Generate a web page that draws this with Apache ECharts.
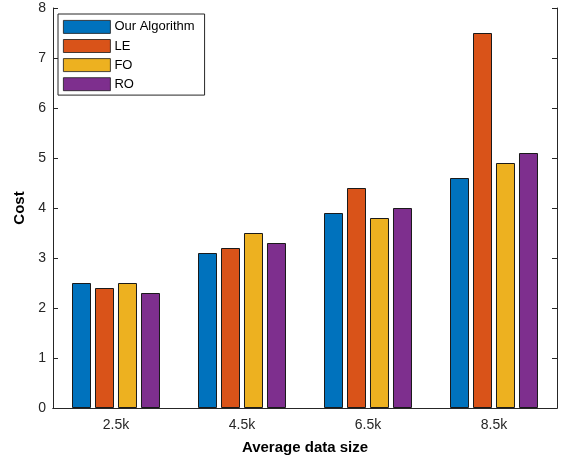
<!DOCTYPE html>
<html>
<head>
<meta charset="utf-8">
<script src="https://cdn.jsdelivr.net/npm/echarts@6/dist/echarts.min.js"></script>
<style>
  html, body { margin: 0; padding: 0; background: #fff; }
  #chart { width: 567px; height: 461px; }
</style>
</head>
<body>
<div id="chart"></div>
<script>
// categories and series values
const sizes = ['2.5k', '4.5k', '6.5k', '8.5k'];
const ourAlgorithm = [2.5, 3.1, 3.9, 4.6];
const le = [2.4, 3.2, 4.4, 7.5];
const fo = [2.5, 3.5, 3.8, 4.9];
const ro = [2.3, 3.3, 4.0, 5.1];

const seriesNames = ['Our Algorithm', 'LE', 'FO', 'RO'];
const seriesData = [ourAlgorithm, le, fo, ro];
const colors = ['#0072BD', '#D95319', '#EDB120', '#7E2F8E'];

const font = 'Liberation Sans, Arial, sans-serif';
const axisColor = '#262626';

let chart = echarts.init(document.getElementById('chart'));

let option = {
    animation: false,
    grid: { left: 53, right: 10, top: 8, bottom: 53 },
    legend: {
        orient: 'vertical',
        left: 58,
        top: 14,
        padding: [6, 10, 4, 5],
        itemWidth: 47,
        itemHeight: 13,
        itemGap: 5.3,
        icon: 'rect',
        backgroundColor: '#fff',
        borderColor: axisColor,
        borderWidth: 1,
        borderRadius: 0,
        itemStyle: { borderWidth: 0.8, borderColor: '#1a1a1a' },
        textStyle: { fontFamily: font, fontSize: 13, color: '#000', lineHeight: 13, padding: [0, 0, 0, -1] },
        data: seriesNames
    },
    xAxis: [
        {
            type: 'category',
            data: sizes,
            name: 'Average data size',
            nameLocation: 'middle',
            nameGap: 32,
            nameTextStyle: { fontFamily: font, fontSize: 15, fontWeight: 'bold', color: '#000' },
            axisLine: { lineStyle: { color: axisColor, width: 1 } },
            axisTick: { inside: true, length: 5, alignWithLabel: true, lineStyle: { color: axisColor } },
            axisLabel: { fontFamily: font, fontSize: 14, color: '#262626', margin: 10 },
            splitLine: { show: false }
        },
        {
            type: 'category',
            data: sizes,
            position: 'top',
            axisLine: { lineStyle: { color: axisColor, width: 1 } },
            axisTick: { inside: true, length: 5, alignWithLabel: true, lineStyle: { color: axisColor } },
            axisLabel: { show: false }
        }
    ],
    yAxis: [
        {
            type: 'value',
            min: 0,
            max: 8,
            interval: 1,
            name: 'Cost',
            nameLocation: 'middle',
            nameGap: 24,
            nameTextStyle: { fontFamily: font, fontSize: 15, fontWeight: 'bold', color: '#000' },
            axisLine: { show: true, lineStyle: { color: axisColor, width: 1 } },
            axisTick: { show: true, inside: true, length: 5, lineStyle: { color: axisColor } },
            axisLabel: { fontFamily: font, fontSize: 14, color: '#262626', margin: 7 },
            splitLine: { show: false }
        },
        {
            type: 'value',
            min: 0,
            max: 8,
            interval: 1,
            position: 'right',
            axisLine: { show: true, lineStyle: { color: axisColor, width: 1 } },
            axisTick: { show: true, inside: true, length: 5, lineStyle: { color: axisColor } },
            axisLabel: { show: false },
            splitLine: { show: false }
        }
    ],
    series: seriesNames.map((name, i) => ({
        name: name,
        type: 'bar',
        barWidth: 19,
        barGap: '21%',
        itemStyle: { color: colors[i], borderColor: '#1a1a1a', borderWidth: 1 },
        data: seriesData[i]
    }))
};

chart.setOption(option);
</script>
</body>
</html>
